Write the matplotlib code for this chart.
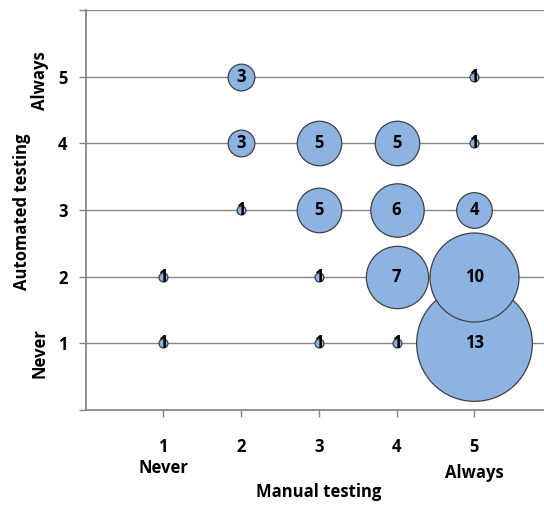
import matplotlib
matplotlib.use("Agg")
import matplotlib.pyplot as plt

plt.rcParams['font.family'] = ['Open Sans', 'DejaVu Sans']

manual = [2, 5, 2, 3, 4, 5, 2, 3, 4, 5, 1, 3, 4, 5, 1, 3, 4, 5]
automated = [5, 5, 4, 4, 4, 4, 3, 3, 3, 3, 2, 2, 2, 2, 1, 1, 1, 1]
counts = [3, 1, 3, 5, 5, 1, 1, 5, 6, 4, 1, 1, 7, 10, 1, 1, 1, 13]
tick_vals = [1, 2, 3, 4, 5]

DPI = 100
W, H = 544, 505
FS = 12
fig = plt.figure(figsize=(W / DPI, H / DPI), dpi=DPI)
left, right, top, bottom = 85.5, 552, 10, 410
ax = fig.add_axes([left / W, 1 - bottom / H, (right - left) / W, (bottom - top) / H])
ax.set_xlim(0, 6)
ax.set_ylim(0, 6)

diam_px_per_count = 8.9
order = sorted(range(len(counts)), key=lambda i: -counts[i])
for i in order:
    d_pt = counts[i] * diam_px_per_count * 72 / DPI
    ax.scatter(manual[i], automated[i], s=d_pt ** 2, color='#8DB3E2',
               edgecolor='#404040', linewidth=0.9, zorder=3)
for i in order:
    ax.text(manual[i], automated[i], str(counts[i]), ha='center', va='center',
            fontsize=FS, fontweight='bold', color='black', zorder=4)

ax.set_yticks(range(0, 7))
ax.set_yticklabels(['' if v not in tick_vals else str(v) for v in range(0, 7)])
ax.set_xticks(tick_vals)
ax.set_xticklabels([str(v) for v in tick_vals])
for lab in ax.get_xticklabels() + ax.get_yticklabels():
    lab.set_fontweight('bold')
    lab.set_fontsize(FS)
ax.tick_params(axis='both', colors='#868686', labelcolor='black', length=5, width=1)
ax.tick_params(axis='x', pad=15)
ax.tick_params(axis='y', pad=8)

for y in range(1, 7):
    ax.axhline(y, color='#868686', linewidth=1, zorder=1)
for s in ['top', 'right']:
    ax.spines[s].set_visible(False)
for s in ['left', 'bottom']:
    ax.spines[s].set_color('#868686')
    ax.spines[s].set_linewidth(1.3)

def fx(px):
    return px / W
def fy(py):
    return 1 - py / H

kw = dict(ha='center', va='center', fontsize=FS, fontweight='bold')
fig.text(fx(163), fy(468), 'Never', **kw)
fig.text(fx(474), fy(473), 'Always', **kw)
fig.text(fx(319), fy(492), 'Manual testing', **kw)
fig.text(fx(40), fy(81), 'Always', rotation=90, **kw)
fig.text(fx(40), fy(353), 'Never', rotation=90, **kw)
fig.text(fx(22), fy(212), 'Automated testing', rotation=90, **kw)

fig.savefig('out.png', dpi=DPI)
